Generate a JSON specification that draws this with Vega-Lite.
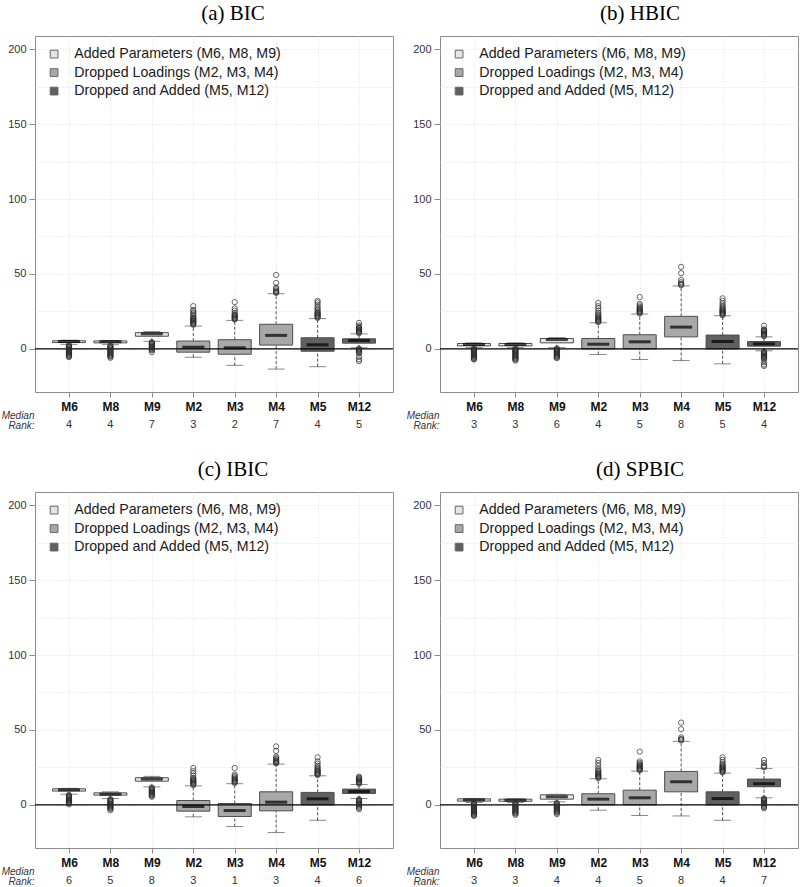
{
"$schema": "https://vega.github.io/schema/vega-lite/v6.json",
"background": "white",
"padding": {"left": 0, "top": 2, "right": 0, "bottom": 0},
"config": {
 "view": {"stroke": "#8c8c8c", "strokeWidth": 1},
 "font": "Liberation Sans",
 "axis": {"domain": false, "grid": true, "gridColor": "#d9d9d9", "gridDash": [1, 2], "gridWidth": 0.8, "tickColor": "#8c8c8c", "labelFont": "Liberation Sans", "labelColor": "#333333"},
 "axisX": {"tickSize": 5, "labelAngle": 0, "labelFontSize": 12, "labelFontWeight": "bold", "labelColor": "#111111", "labelPadding": 4, "titleFont": "Liberation Sans", "titleFontStyle": "italic", "titleFontWeight": "normal", "titleFontSize": 10, "titleColor": "#333333", "titleAlign": "right", "titleX": -1, "titleY": 18, "titleBaseline": "top", "titleLineHeight": 10, "titleAnchor": "start"},
 "axisY": {"tickSize": 6, "labelFontSize": 11, "labelPadding": 3},
 "legend": {"orient": "none", "legendX": 12, "legendY": 11, "title": null, "symbolType": "square", "symbolSize": 60, "symbolStrokeColor": "#666666", "symbolStrokeWidth": 1, "labelFont": "Liberation Sans", "labelFontSize": 14.2, "labelColor": "#1a1a1a", "labelOffset": 13, "labelLimit": 0, "rowPadding": 3.5, "padding": 0},
 "title": {"font": "Liberation Serif", "fontSize": 21, "fontWeight": "normal", "color": "#000000", "anchor": "middle", "offset": 12}
},
"datasets": {
 "zero": [{"ref": 0}],
 "box_a": [
  {"m": "M6", "g": "Added Parameters (M6, M8, M9)", "lo": 3.0, "q1": 4.2, "med": 4.9, "q3": 5.4, "hi": 5.8, "rank": 4},
  {"m": "M8", "g": "Added Parameters (M6, M8, M9)", "lo": 2.8, "q1": 4.0, "med": 4.8, "q3": 5.3, "hi": 5.6, "rank": 4},
  {"m": "M9", "g": "Added Parameters (M6, M8, M9)", "lo": 5.0, "q1": 8.4, "med": 10.0, "q3": 10.8, "hi": 11.5, "rank": 7},
  {"m": "M2", "g": "Dropped Loadings (M2, M3, M4)", "lo": -5.6, "q1": -2.2, "med": 1.1, "q3": 5.2, "hi": 15.2, "rank": 3},
  {"m": "M3", "g": "Dropped Loadings (M2, M3, M4)", "lo": -11.0, "q1": -3.6, "med": 0.7, "q3": 6.1, "hi": 19.0, "rank": 2},
  {"m": "M4", "g": "Dropped Loadings (M2, M3, M4)", "lo": -13.5, "q1": 2.5, "med": 9.0, "q3": 16.4, "hi": 36.8, "rank": 7},
  {"m": "M5", "g": "Dropped and Added (M5, M12)", "lo": -11.9, "q1": -1.6, "med": 2.7, "q3": 7.4, "hi": 20.2, "rank": 4},
  {"m": "M12", "g": "Dropped and Added (M5, M12)", "lo": 0.7, "q1": 3.8, "med": 5.6, "q3": 6.7, "hi": 10.0, "rank": 5}
 ],
 "box_b": [
  {"m": "M6", "g": "Added Parameters (M6, M8, M9)", "lo": 0.8, "q1": 2.0, "med": 2.9, "q3": 3.6, "hi": 4.0, "rank": 3},
  {"m": "M8", "g": "Added Parameters (M6, M8, M9)", "lo": 0.8, "q1": 2.0, "med": 2.9, "q3": 3.6, "hi": 4.0, "rank": 3},
  {"m": "M9", "g": "Added Parameters (M6, M8, M9)", "lo": 0.8, "q1": 4.0, "med": 6.2, "q3": 6.9, "hi": 7.5, "rank": 6},
  {"m": "M2", "g": "Dropped Loadings (M2, M3, M4)", "lo": -3.8, "q1": 0.0, "med": 3.1, "q3": 6.9, "hi": 17.4, "rank": 4},
  {"m": "M3", "g": "Dropped Loadings (M2, M3, M4)", "lo": -7.1, "q1": 0.0, "med": 4.7, "q3": 9.4, "hi": 23.2, "rank": 5},
  {"m": "M4", "g": "Dropped Loadings (M2, M3, M4)", "lo": -7.8, "q1": 8.0, "med": 14.5, "q3": 21.7, "hi": 42.0, "rank": 8},
  {"m": "M5", "g": "Dropped and Added (M5, M12)", "lo": -10.0, "q1": 0.0, "med": 4.9, "q3": 9.2, "hi": 22.1, "rank": 5},
  {"m": "M12", "g": "Dropped and Added (M5, M12)", "lo": -1.3, "q1": 1.8, "med": 3.3, "q3": 4.9, "hi": 8.0, "rank": 4}
 ],
 "box_c": [
  {"m": "M6", "g": "Added Parameters (M6, M8, M9)", "lo": 7.1, "q1": 9.2, "med": 10.0, "q3": 10.7, "hi": 11.0, "rank": 6},
  {"m": "M8", "g": "Added Parameters (M6, M8, M9)", "lo": 4.2, "q1": 6.5, "med": 7.1, "q3": 8.0, "hi": 8.7, "rank": 5},
  {"m": "M9", "g": "Added Parameters (M6, M8, M9)", "lo": 12.0, "q1": 15.8, "med": 17.2, "q3": 18.1, "hi": 19.0, "rank": 8},
  {"m": "M2", "g": "Dropped Loadings (M2, M3, M4)", "lo": -8.0, "q1": -4.2, "med": -1.1, "q3": 2.9, "hi": 12.7, "rank": 3},
  {"m": "M3", "g": "Dropped Loadings (M2, M3, M4)", "lo": -14.5, "q1": -7.8, "med": -3.8, "q3": 0.9, "hi": 14.1, "rank": 1},
  {"m": "M4", "g": "Dropped Loadings (M2, M3, M4)", "lo": -18.5, "q1": -4.0, "med": 1.8, "q3": 8.7, "hi": 27.2, "rank": 3},
  {"m": "M5", "g": "Dropped and Added (M5, M12)", "lo": -10.3, "q1": 0.0, "med": 4.0, "q3": 8.3, "hi": 19.4, "rank": 4},
  {"m": "M12", "g": "Dropped and Added (M5, M12)", "lo": 4.2, "q1": 7.6, "med": 8.9, "q3": 10.5, "hi": 13.6, "rank": 6}
 ],
 "box_d": [
  {"m": "M6", "g": "Added Parameters (M6, M8, M9)", "lo": 1.6, "q1": 2.5, "med": 3.3, "q3": 4.0, "hi": 4.2, "rank": 3},
  {"m": "M8", "g": "Added Parameters (M6, M8, M9)", "lo": 1.6, "q1": 2.4, "med": 3.1, "q3": 3.8, "hi": 4.0, "rank": 3},
  {"m": "M9", "g": "Added Parameters (M6, M8, M9)", "lo": 2.0, "q1": 3.8, "med": 5.4, "q3": 6.7, "hi": 7.0, "rank": 4},
  {"m": "M2", "g": "Dropped Loadings (M2, M3, M4)", "lo": -3.6, "q1": 0.0, "med": 3.8, "q3": 7.4, "hi": 17.4, "rank": 4},
  {"m": "M3", "g": "Dropped Loadings (M2, M3, M4)", "lo": -7.1, "q1": 0.0, "med": 4.7, "q3": 9.8, "hi": 22.5, "rank": 5},
  {"m": "M4", "g": "Dropped Loadings (M2, M3, M4)", "lo": -7.4, "q1": 8.7, "med": 15.4, "q3": 22.3, "hi": 42.4, "rank": 8},
  {"m": "M5", "g": "Dropped and Added (M5, M12)", "lo": -10.3, "q1": 0.0, "med": 4.2, "q3": 8.7, "hi": 21.2, "rank": 4},
  {"m": "M12", "g": "Dropped and Added (M5, M12)", "lo": 4.7, "q1": 12.1, "med": 14.1, "q3": 17.2, "hi": 24.3, "rank": 7}
 ],
 "out_a": [
  {"m":"M6","v":2.5},{"m":"M6","v":2},{"m":"M6","v":1.5},{"m":"M6","v":1},{"m":"M6","v":0.5},{"m":"M6","v":0},{"m":"M6","v":-0.5},{"m":"M6","v":-1},{"m":"M6","v":-1.5},{"m":"M6","v":-2},{"m":"M6","v":-2.5},{"m":"M6","v":-3},{"m":"M6","v":-3.5},{"m":"M6","v":-4},{"m":"M6","v":-4.5},{"m":"M6","v":-5},{"m":"M6","v":-5.5},
  {"m":"M8","v":2.2},{"m":"M8","v":1.7},{"m":"M8","v":1.2},{"m":"M8","v":0.7},{"m":"M8","v":0.2},{"m":"M8","v":-0.3},{"m":"M8","v":-0.8},{"m":"M8","v":-1.3},{"m":"M8","v":-1.8},{"m":"M8","v":-2.3},{"m":"M8","v":-2.8},{"m":"M8","v":-3.3},{"m":"M8","v":-3.8},{"m":"M8","v":-4.3},{"m":"M8","v":-4.8},{"m":"M8","v":-5.3},{"m":"M8","v":-6},
  {"m":"M9","v":4.5},{"m":"M9","v":4},{"m":"M9","v":3.5},{"m":"M9","v":3},{"m":"M9","v":2.5},{"m":"M9","v":2},{"m":"M9","v":1.5},{"m":"M9","v":1},{"m":"M9","v":0.5},{"m":"M9","v":0},{"m":"M9","v":-0.5},{"m":"M9","v":-1},{"m":"M9","v":-2.2},
  {"m":"M2","v":16},{"m":"M2","v":16.5},{"m":"M2","v":17},{"m":"M2","v":17.5},{"m":"M2","v":18},{"m":"M2","v":18.5},{"m":"M2","v":19},{"m":"M2","v":19.5},{"m":"M2","v":20},{"m":"M2","v":20.5},{"m":"M2","v":21},{"m":"M2","v":22},{"m":"M2","v":23},{"m":"M2","v":24},{"m":"M2","v":25},{"m":"M2","v":26},{"m":"M2","v":28.5},
  {"m":"M3","v":19.6},{"m":"M3","v":20},{"m":"M3","v":20.5},{"m":"M3","v":21},{"m":"M3","v":21.5},{"m":"M3","v":22},{"m":"M3","v":22.5},{"m":"M3","v":23},{"m":"M3","v":24},{"m":"M3","v":25.5},{"m":"M3","v":27},{"m":"M3","v":31.2},
  {"m":"M4","v":37.3},{"m":"M4","v":37.8},{"m":"M4","v":38.3},{"m":"M4","v":39},{"m":"M4","v":40},{"m":"M4","v":41},{"m":"M4","v":44},{"m":"M4","v":49.3},
  {"m":"M5","v":20.7},{"m":"M5","v":21.2},{"m":"M5","v":21.7},{"m":"M5","v":22.2},{"m":"M5","v":22.7},{"m":"M5","v":23.2},{"m":"M5","v":23.7},{"m":"M5","v":24.2},{"m":"M5","v":25},{"m":"M5","v":26},{"m":"M5","v":27},{"m":"M5","v":28},{"m":"M5","v":29.5},{"m":"M5","v":31},{"m":"M5","v":32},
  {"m":"M12","v":10.5},{"m":"M12","v":11},{"m":"M12","v":11.5},{"m":"M12","v":12},{"m":"M12","v":12.5},{"m":"M12","v":13},{"m":"M12","v":13.5},{"m":"M12","v":14},{"m":"M12","v":14.5},{"m":"M12","v":15.5},{"m":"M12","v":17.3},{"m":"M12","v":0.2},{"m":"M12","v":-0.3},{"m":"M12","v":-0.8},{"m":"M12","v":-1.3},{"m":"M12","v":-1.8},{"m":"M12","v":-2.3},{"m":"M12","v":-3},{"m":"M12","v":-5.3},{"m":"M12","v":-7},{"m":"M12","v":-8.2}
 ],
 "out_b": [
  {"m":"M6","v":0.3},{"m":"M6","v":-0.2},{"m":"M6","v":-0.7},{"m":"M6","v":-1.2},{"m":"M6","v":-1.7},{"m":"M6","v":-2.2},{"m":"M6","v":-2.7},{"m":"M6","v":-3.2},{"m":"M6","v":-3.7},{"m":"M6","v":-4.2},{"m":"M6","v":-4.7},{"m":"M6","v":-5.2},{"m":"M6","v":-5.7},{"m":"M6","v":-6.2},{"m":"M6","v":-6.7},{"m":"M6","v":-7.1},
  {"m":"M8","v":0.3},{"m":"M8","v":-0.2},{"m":"M8","v":-0.7},{"m":"M8","v":-1.2},{"m":"M8","v":-1.7},{"m":"M8","v":-2.2},{"m":"M8","v":-2.7},{"m":"M8","v":-3.2},{"m":"M8","v":-3.7},{"m":"M8","v":-4.2},{"m":"M8","v":-4.7},{"m":"M8","v":-5.2},{"m":"M8","v":-5.7},{"m":"M8","v":-6.2},{"m":"M8","v":-6.7},{"m":"M8","v":-7.2},{"m":"M8","v":-7.8},
  {"m":"M9","v":0.3},{"m":"M9","v":-0.2},{"m":"M9","v":-0.7},{"m":"M9","v":-1.2},{"m":"M9","v":-1.7},{"m":"M9","v":-2.2},{"m":"M9","v":-2.7},{"m":"M9","v":-3.2},{"m":"M9","v":-3.7},{"m":"M9","v":-4.2},{"m":"M9","v":-4.7},{"m":"M9","v":-5.2},{"m":"M9","v":-5.7},{"m":"M9","v":-6.2},
  {"m":"M2","v":17.8},{"m":"M2","v":18.3},{"m":"M2","v":18.8},{"m":"M2","v":19.3},{"m":"M2","v":19.8},{"m":"M2","v":20.3},{"m":"M2","v":20.8},{"m":"M2","v":21.5},{"m":"M2","v":22.2},{"m":"M2","v":23},{"m":"M2","v":24},{"m":"M2","v":25.5},{"m":"M2","v":27},{"m":"M2","v":28.5},{"m":"M2","v":30.6},
  {"m":"M3","v":23.6},{"m":"M3","v":24.1},{"m":"M3","v":24.6},{"m":"M3","v":25.1},{"m":"M3","v":25.6},{"m":"M3","v":26.1},{"m":"M3","v":26.6},{"m":"M3","v":27.2},{"m":"M3","v":28},{"m":"M3","v":29},{"m":"M3","v":30},{"m":"M3","v":34.6},
  {"m":"M4","v":42.4},{"m":"M4","v":43},{"m":"M4","v":43.5},{"m":"M4","v":44.5},{"m":"M4","v":46},{"m":"M4","v":50.5},{"m":"M4","v":54.7},
  {"m":"M5","v":22.5},{"m":"M5","v":23},{"m":"M5","v":23.5},{"m":"M5","v":24},{"m":"M5","v":24.5},{"m":"M5","v":25},{"m":"M5","v":25.5},{"m":"M5","v":26},{"m":"M5","v":26.5},{"m":"M5","v":27.2},{"m":"M5","v":28},{"m":"M5","v":29},{"m":"M5","v":30.5},{"m":"M5","v":32},{"m":"M5","v":33.7},
  {"m":"M12","v":8.5},{"m":"M12","v":9},{"m":"M12","v":9.5},{"m":"M12","v":10},{"m":"M12","v":10.5},{"m":"M12","v":11},{"m":"M12","v":11.5},{"m":"M12","v":12},{"m":"M12","v":12.5},{"m":"M12","v":13},{"m":"M12","v":15.4},{"m":"M12","v":-1.8},{"m":"M12","v":-2.3},{"m":"M12","v":-2.8},{"m":"M12","v":-3.3},{"m":"M12","v":-3.8},{"m":"M12","v":-4.3},{"m":"M12","v":-4.8},{"m":"M12","v":-5.3},{"m":"M12","v":-5.8},{"m":"M12","v":-6.3},{"m":"M12","v":-7},{"m":"M12","v":-9},{"m":"M12","v":-10.5},{"m":"M12","v":-11.4}
 ],
 "out_c": [
  {"m":"M6","v":6.6},{"m":"M6","v":6.1},{"m":"M6","v":5.6},{"m":"M6","v":5.1},{"m":"M6","v":4.6},{"m":"M6","v":4.1},{"m":"M6","v":3.6},{"m":"M6","v":3.1},{"m":"M6","v":2.6},{"m":"M6","v":2.1},{"m":"M6","v":1.6},{"m":"M6","v":1.1},{"m":"M6","v":0.4},
  {"m":"M8","v":3.8},{"m":"M8","v":3.3},{"m":"M8","v":2.8},{"m":"M8","v":2.3},{"m":"M8","v":1.8},{"m":"M8","v":1.3},{"m":"M8","v":0.8},{"m":"M8","v":0.3},{"m":"M8","v":-0.2},{"m":"M8","v":-0.7},{"m":"M8","v":-1.2},{"m":"M8","v":-1.7},{"m":"M8","v":-2.2},{"m":"M8","v":-2.7},{"m":"M8","v":-3.6},
  {"m":"M9","v":11.5},{"m":"M9","v":11},{"m":"M9","v":10.5},{"m":"M9","v":10},{"m":"M9","v":9.5},{"m":"M9","v":9},{"m":"M9","v":8.5},{"m":"M9","v":8},{"m":"M9","v":7.5},{"m":"M9","v":7},{"m":"M9","v":6.5},{"m":"M9","v":6},{"m":"M9","v":5.4},
  {"m":"M2","v":13.2},{"m":"M2","v":13.7},{"m":"M2","v":14.2},{"m":"M2","v":14.7},{"m":"M2","v":15.2},{"m":"M2","v":15.7},{"m":"M2","v":16.2},{"m":"M2","v":16.7},{"m":"M2","v":17.3},{"m":"M2","v":18},{"m":"M2","v":19.5},{"m":"M2","v":21},{"m":"M2","v":22.5},{"m":"M2","v":24.6},
  {"m":"M3","v":14.6},{"m":"M3","v":15.1},{"m":"M3","v":15.6},{"m":"M3","v":16.1},{"m":"M3","v":16.6},{"m":"M3","v":17.1},{"m":"M3","v":17.7},{"m":"M3","v":18.4},{"m":"M3","v":19.2},{"m":"M3","v":20.2},{"m":"M3","v":24.6},
  {"m":"M4","v":27.7},{"m":"M4","v":28.2},{"m":"M4","v":28.7},{"m":"M4","v":29.2},{"m":"M4","v":29.8},{"m":"M4","v":30.5},{"m":"M4","v":31.2},{"m":"M4","v":32.2},{"m":"M4","v":36},{"m":"M4","v":39},
  {"m":"M5","v":19.9},{"m":"M5","v":20.4},{"m":"M5","v":20.9},{"m":"M5","v":21.4},{"m":"M5","v":21.9},{"m":"M5","v":22.4},{"m":"M5","v":22.9},{"m":"M5","v":23.5},{"m":"M5","v":24.2},{"m":"M5","v":25},{"m":"M5","v":26},{"m":"M5","v":27.5},{"m":"M5","v":29},{"m":"M5","v":31.7},
  {"m":"M12","v":14.1},{"m":"M12","v":14.6},{"m":"M12","v":15.1},{"m":"M12","v":15.6},{"m":"M12","v":16.1},{"m":"M12","v":16.6},{"m":"M12","v":17.1},{"m":"M12","v":17.6},{"m":"M12","v":18.1},{"m":"M12","v":18.8},{"m":"M12","v":3.7},{"m":"M12","v":3.2},{"m":"M12","v":2.7},{"m":"M12","v":2.2},{"m":"M12","v":1.7},{"m":"M12","v":1.2},{"m":"M12","v":0.7},{"m":"M12","v":0.2},{"m":"M12","v":-0.5},{"m":"M12","v":-1.3},{"m":"M12","v":-2},{"m":"M12","v":-2.9}
 ],
 "out_d": [
  {"m":"M6","v":1.1},{"m":"M6","v":0.6},{"m":"M6","v":0.1},{"m":"M6","v":-0.4},{"m":"M6","v":-0.9},{"m":"M6","v":-1.4},{"m":"M6","v":-1.9},{"m":"M6","v":-2.4},{"m":"M6","v":-2.9},{"m":"M6","v":-3.4},{"m":"M6","v":-3.9},{"m":"M6","v":-4.4},{"m":"M6","v":-4.9},{"m":"M6","v":-5.4},{"m":"M6","v":-5.9},{"m":"M6","v":-6.4},{"m":"M6","v":-6.9},{"m":"M6","v":-7.4},
  {"m":"M8","v":1.1},{"m":"M8","v":0.6},{"m":"M8","v":0.1},{"m":"M8","v":-0.4},{"m":"M8","v":-0.9},{"m":"M8","v":-1.4},{"m":"M8","v":-1.9},{"m":"M8","v":-2.4},{"m":"M8","v":-2.9},{"m":"M8","v":-3.4},{"m":"M8","v":-3.9},{"m":"M8","v":-4.4},{"m":"M8","v":-4.9},{"m":"M8","v":-5.4},{"m":"M8","v":-5.9},{"m":"M8","v":-6.7},
  {"m":"M9","v":1.2},{"m":"M9","v":0.7},{"m":"M9","v":0.2},{"m":"M9","v":-0.3},{"m":"M9","v":-0.8},{"m":"M9","v":-1.3},{"m":"M9","v":-1.8},{"m":"M9","v":-2.3},{"m":"M9","v":-2.8},{"m":"M9","v":-3.3},{"m":"M9","v":-3.8},{"m":"M9","v":-4.3},{"m":"M9","v":-4.8},{"m":"M9","v":-5.3},{"m":"M9","v":-6.2},
  {"m":"M2","v":17.9},{"m":"M2","v":18.4},{"m":"M2","v":18.9},{"m":"M2","v":19.4},{"m":"M2","v":19.9},{"m":"M2","v":20.4},{"m":"M2","v":20.9},{"m":"M2","v":21.5},{"m":"M2","v":22.2},{"m":"M2","v":23},{"m":"M2","v":24},{"m":"M2","v":26},{"m":"M2","v":28},{"m":"M2","v":29.9},
  {"m":"M3","v":23},{"m":"M3","v":23.5},{"m":"M3","v":24},{"m":"M3","v":24.5},{"m":"M3","v":25},{"m":"M3","v":25.5},{"m":"M3","v":26},{"m":"M3","v":26.5},{"m":"M3","v":27.2},{"m":"M3","v":28},{"m":"M3","v":29},{"m":"M3","v":35.5},
  {"m":"M4","v":43},{"m":"M4","v":43.5},{"m":"M4","v":44},{"m":"M4","v":45},{"m":"M4","v":50.5},{"m":"M4","v":54.9},
  {"m":"M5","v":21.7},{"m":"M5","v":22.2},{"m":"M5","v":22.7},{"m":"M5","v":23.2},{"m":"M5","v":23.7},{"m":"M5","v":24.2},{"m":"M5","v":24.7},{"m":"M5","v":25.2},{"m":"M5","v":25.8},{"m":"M5","v":26.5},{"m":"M5","v":27.2},{"m":"M5","v":28.5},{"m":"M5","v":30},{"m":"M5","v":31.7},
  {"m":"M12","v":25},{"m":"M12","v":25.5},{"m":"M12","v":26.2},{"m":"M12","v":28},{"m":"M12","v":29.9},{"m":"M12","v":4.2},{"m":"M12","v":3.7},{"m":"M12","v":3.2},{"m":"M12","v":2.7},{"m":"M12","v":2.2},{"m":"M12","v":1.7},{"m":"M12","v":1.2},{"m":"M12","v":0.7},{"m":"M12","v":0},{"m":"M12","v":-0.8},{"m":"M12","v":-1.5},{"m":"M12","v":-2.2}
 ]
},
"vconcat": [
 {"hconcat": [
  {"width": 358, "height": 356, "title": {"text": "(a) BIC", "dx": 19},
   "layer": [
    {"data": {"name": "box_a"}, "mark": {"type": "rule", "strokeDash": [3, 2], "color": "#555555"},
     "encoding": {"x": {"field": "m", "type": "nominal", "sort": ["M6","M8","M9","M2","M3","M4","M5","M12"], "scale": {"type": "point", "padding": 0.82}, "title": ["Median", "Rank:"]},
      "y": {"field": "q3", "type": "quantitative", "scale": {"domain": [-28.8, 208.8], "nice": false, "zero": false}, "title": null, "axis": {"values": [0,25,50,75,100,125,150,175,200], "labelExpr": "datum.value % 50 === 0 ? datum.label : ''", "tickOpacity": {"condition": {"test": "datum.value % 50 === 0", "value": 1}, "value": 0}}},
      "y2": {"field": "hi"}}},
    {"data": {"name": "box_a"}, "mark": {"type": "rule", "strokeDash": [3, 2], "color": "#555555"},
     "encoding": {"x": {"field": "m", "type": "nominal", "sort": ["M6","M8","M9","M2","M3","M4","M5","M12"], "title": ["Median", "Rank:"]}, "y": {"field": "lo", "type": "quantitative", "title": null}, "y2": {"field": "q1"}}},
    {"data": {"name": "box_a"}, "mark": {"type": "tick", "orient": "horizontal", "size": 17, "thickness": 1, "color": "#555555"},
     "encoding": {"x": {"field": "m", "type": "nominal", "sort": ["M6","M8","M9","M2","M3","M4","M5","M12"], "title": ["Median", "Rank:"]}, "y": {"field": "hi", "type": "quantitative", "title": null}}},
    {"data": {"name": "box_a"}, "mark": {"type": "tick", "orient": "horizontal", "size": 17, "thickness": 1, "color": "#555555"},
     "encoding": {"x": {"field": "m", "type": "nominal", "sort": ["M6","M8","M9","M2","M3","M4","M5","M12"], "title": ["Median", "Rank:"]}, "y": {"field": "lo", "type": "quantitative", "title": null}}},
    {"data": {"name": "box_a"}, "mark": {"type": "bar", "width": 33, "stroke": "#4d4d4d", "strokeWidth": 1},
     "encoding": {"x": {"field": "m", "type": "nominal", "sort": ["M6","M8","M9","M2","M3","M4","M5","M12"], "title": ["Median", "Rank:"]}, "y": {"field": "q1", "type": "quantitative", "title": null}, "y2": {"field": "q3"},
      "fill": {"field": "g", "type": "nominal", "scale": {"domain": ["Added Parameters (M6, M8, M9)", "Dropped Loadings (M2, M3, M4)", "Dropped and Added (M5, M12)"], "range": ["#e6e6e6", "#a8a8a8", "#606060"]}}}},
    {"data": {"name": "box_a"}, "mark": {"type": "tick", "orient": "horizontal", "size": 22, "thickness": 3, "color": "#000000"},
     "encoding": {"x": {"field": "m", "type": "nominal", "sort": ["M6","M8","M9","M2","M3","M4","M5","M12"], "title": ["Median", "Rank:"]}, "y": {"field": "med", "type": "quantitative", "title": null}}},
    {"data": {"name": "zero"}, "mark": {"type": "rule", "color": "#000000", "strokeWidth": 1.2}, "encoding": {"y": {"field": "ref", "type": "quantitative", "title": null}}},
    {"data": {"name": "out_a"}, "mark": {"type": "point", "shape": "circle", "filled": false, "size": 28, "stroke": "#2a2a2a", "strokeWidth": 1},
     "encoding": {"x": {"field": "m", "type": "nominal", "sort": ["M6","M8","M9","M2","M3","M4","M5","M12"], "title": ["Median", "Rank:"]}, "y": {"field": "v", "type": "quantitative", "title": null}}},
    {"data": {"name": "box_a"}, "mark": {"type": "text", "fontSize": 11, "color": "#333333", "baseline": "middle"},
     "encoding": {"x": {"field": "m", "type": "nominal", "sort": ["M6","M8","M9","M2","M3","M4","M5","M12"], "title": ["Median", "Rank:"]}, "y": {"datum": -50.5, "type": "quantitative", "title": null}, "text": {"field": "rank"}}}
   ]},
  {"width": 358, "height": 356, "title": {"text": "(b) HBIC", "dx": 21},
   "layer": [
    {"data": {"name": "box_b"}, "mark": {"type": "rule", "strokeDash": [3, 2], "color": "#555555"},
     "encoding": {"x": {"field": "m", "type": "nominal", "sort": ["M6","M8","M9","M2","M3","M4","M5","M12"], "scale": {"type": "point", "padding": 0.82}, "title": ["Median", "Rank:"]},
      "y": {"field": "q3", "type": "quantitative", "scale": {"domain": [-28.8, 208.8], "nice": false, "zero": false}, "title": null, "axis": {"values": [0,25,50,75,100,125,150,175,200], "labelExpr": "datum.value % 50 === 0 ? datum.label : ''", "tickOpacity": {"condition": {"test": "datum.value % 50 === 0", "value": 1}, "value": 0}}},
      "y2": {"field": "hi"}}},
    {"data": {"name": "box_b"}, "mark": {"type": "rule", "strokeDash": [3, 2], "color": "#555555"},
     "encoding": {"x": {"field": "m", "type": "nominal", "sort": ["M6","M8","M9","M2","M3","M4","M5","M12"], "title": ["Median", "Rank:"]}, "y": {"field": "lo", "type": "quantitative", "title": null}, "y2": {"field": "q1"}}},
    {"data": {"name": "box_b"}, "mark": {"type": "tick", "orient": "horizontal", "size": 17, "thickness": 1, "color": "#555555"},
     "encoding": {"x": {"field": "m", "type": "nominal", "sort": ["M6","M8","M9","M2","M3","M4","M5","M12"], "title": ["Median", "Rank:"]}, "y": {"field": "hi", "type": "quantitative", "title": null}}},
    {"data": {"name": "box_b"}, "mark": {"type": "tick", "orient": "horizontal", "size": 17, "thickness": 1, "color": "#555555"},
     "encoding": {"x": {"field": "m", "type": "nominal", "sort": ["M6","M8","M9","M2","M3","M4","M5","M12"], "title": ["Median", "Rank:"]}, "y": {"field": "lo", "type": "quantitative", "title": null}}},
    {"data": {"name": "box_b"}, "mark": {"type": "bar", "width": 33, "stroke": "#4d4d4d", "strokeWidth": 1},
     "encoding": {"x": {"field": "m", "type": "nominal", "sort": ["M6","M8","M9","M2","M3","M4","M5","M12"], "title": ["Median", "Rank:"]}, "y": {"field": "q1", "type": "quantitative", "title": null}, "y2": {"field": "q3"},
      "fill": {"field": "g", "type": "nominal", "scale": {"domain": ["Added Parameters (M6, M8, M9)", "Dropped Loadings (M2, M3, M4)", "Dropped and Added (M5, M12)"], "range": ["#e6e6e6", "#a8a8a8", "#606060"]}}}},
    {"data": {"name": "box_b"}, "mark": {"type": "tick", "orient": "horizontal", "size": 22, "thickness": 3, "color": "#000000"},
     "encoding": {"x": {"field": "m", "type": "nominal", "sort": ["M6","M8","M9","M2","M3","M4","M5","M12"], "title": ["Median", "Rank:"]}, "y": {"field": "med", "type": "quantitative", "title": null}}},
    {"data": {"name": "zero"}, "mark": {"type": "rule", "color": "#000000", "strokeWidth": 1.2}, "encoding": {"y": {"field": "ref", "type": "quantitative", "title": null}}},
    {"data": {"name": "out_b"}, "mark": {"type": "point", "shape": "circle", "filled": false, "size": 28, "stroke": "#2a2a2a", "strokeWidth": 1},
     "encoding": {"x": {"field": "m", "type": "nominal", "sort": ["M6","M8","M9","M2","M3","M4","M5","M12"], "title": ["Median", "Rank:"]}, "y": {"field": "v", "type": "quantitative", "title": null}}},
    {"data": {"name": "box_b"}, "mark": {"type": "text", "fontSize": 11, "color": "#333333", "baseline": "middle"},
     "encoding": {"x": {"field": "m", "type": "nominal", "sort": ["M6","M8","M9","M2","M3","M4","M5","M12"], "title": ["Median", "Rank:"]}, "y": {"datum": -50.5, "type": "quantitative", "title": null}, "text": {"field": "rank"}}}
   ]}
 ], "spacing": 47, "bounds": "flush", "resolve": {"legend": {"fill": "independent"}, "scale": {"fill": "independent"}}},
 {"hconcat": [
  {"width": 358, "height": 356, "title": {"text": "(c) IBIC", "dx": 19},
   "layer": [
    {"data": {"name": "box_c"}, "mark": {"type": "rule", "strokeDash": [3, 2], "color": "#555555"},
     "encoding": {"x": {"field": "m", "type": "nominal", "sort": ["M6","M8","M9","M2","M3","M4","M5","M12"], "scale": {"type": "point", "padding": 0.82}, "title": ["Median", "Rank:"]},
      "y": {"field": "q3", "type": "quantitative", "scale": {"domain": [-28.8, 208.8], "nice": false, "zero": false}, "title": null, "axis": {"values": [0,25,50,75,100,125,150,175,200], "labelExpr": "datum.value % 50 === 0 ? datum.label : ''", "tickOpacity": {"condition": {"test": "datum.value % 50 === 0", "value": 1}, "value": 0}}},
      "y2": {"field": "hi"}}},
    {"data": {"name": "box_c"}, "mark": {"type": "rule", "strokeDash": [3, 2], "color": "#555555"},
     "encoding": {"x": {"field": "m", "type": "nominal", "sort": ["M6","M8","M9","M2","M3","M4","M5","M12"], "title": ["Median", "Rank:"]}, "y": {"field": "lo", "type": "quantitative", "title": null}, "y2": {"field": "q1"}}},
    {"data": {"name": "box_c"}, "mark": {"type": "tick", "orient": "horizontal", "size": 17, "thickness": 1, "color": "#555555"},
     "encoding": {"x": {"field": "m", "type": "nominal", "sort": ["M6","M8","M9","M2","M3","M4","M5","M12"], "title": ["Median", "Rank:"]}, "y": {"field": "hi", "type": "quantitative", "title": null}}},
    {"data": {"name": "box_c"}, "mark": {"type": "tick", "orient": "horizontal", "size": 17, "thickness": 1, "color": "#555555"},
     "encoding": {"x": {"field": "m", "type": "nominal", "sort": ["M6","M8","M9","M2","M3","M4","M5","M12"], "title": ["Median", "Rank:"]}, "y": {"field": "lo", "type": "quantitative", "title": null}}},
    {"data": {"name": "box_c"}, "mark": {"type": "bar", "width": 33, "stroke": "#4d4d4d", "strokeWidth": 1},
     "encoding": {"x": {"field": "m", "type": "nominal", "sort": ["M6","M8","M9","M2","M3","M4","M5","M12"], "title": ["Median", "Rank:"]}, "y": {"field": "q1", "type": "quantitative", "title": null}, "y2": {"field": "q3"},
      "fill": {"field": "g", "type": "nominal", "scale": {"domain": ["Added Parameters (M6, M8, M9)", "Dropped Loadings (M2, M3, M4)", "Dropped and Added (M5, M12)"], "range": ["#e6e6e6", "#a8a8a8", "#606060"]}}}},
    {"data": {"name": "box_c"}, "mark": {"type": "tick", "orient": "horizontal", "size": 22, "thickness": 3, "color": "#000000"},
     "encoding": {"x": {"field": "m", "type": "nominal", "sort": ["M6","M8","M9","M2","M3","M4","M5","M12"], "title": ["Median", "Rank:"]}, "y": {"field": "med", "type": "quantitative", "title": null}}},
    {"data": {"name": "zero"}, "mark": {"type": "rule", "color": "#000000", "strokeWidth": 1.2}, "encoding": {"y": {"field": "ref", "type": "quantitative", "title": null}}},
    {"data": {"name": "out_c"}, "mark": {"type": "point", "shape": "circle", "filled": false, "size": 28, "stroke": "#2a2a2a", "strokeWidth": 1},
     "encoding": {"x": {"field": "m", "type": "nominal", "sort": ["M6","M8","M9","M2","M3","M4","M5","M12"], "title": ["Median", "Rank:"]}, "y": {"field": "v", "type": "quantitative", "title": null}}},
    {"data": {"name": "box_c"}, "mark": {"type": "text", "fontSize": 11, "color": "#333333", "baseline": "middle"},
     "encoding": {"x": {"field": "m", "type": "nominal", "sort": ["M6","M8","M9","M2","M3","M4","M5","M12"], "title": ["Median", "Rank:"]}, "y": {"datum": -50.5, "type": "quantitative", "title": null}, "text": {"field": "rank"}}}
   ]},
  {"width": 358, "height": 356, "title": {"text": "(d) SPBIC", "dx": 21},
   "layer": [
    {"data": {"name": "box_d"}, "mark": {"type": "rule", "strokeDash": [3, 2], "color": "#555555"},
     "encoding": {"x": {"field": "m", "type": "nominal", "sort": ["M6","M8","M9","M2","M3","M4","M5","M12"], "scale": {"type": "point", "padding": 0.82}, "title": ["Median", "Rank:"]},
      "y": {"field": "q3", "type": "quantitative", "scale": {"domain": [-28.8, 208.8], "nice": false, "zero": false}, "title": null, "axis": {"values": [0,25,50,75,100,125,150,175,200], "labelExpr": "datum.value % 50 === 0 ? datum.label : ''", "tickOpacity": {"condition": {"test": "datum.value % 50 === 0", "value": 1}, "value": 0}}},
      "y2": {"field": "hi"}}},
    {"data": {"name": "box_d"}, "mark": {"type": "rule", "strokeDash": [3, 2], "color": "#555555"},
     "encoding": {"x": {"field": "m", "type": "nominal", "sort": ["M6","M8","M9","M2","M3","M4","M5","M12"], "title": ["Median", "Rank:"]}, "y": {"field": "lo", "type": "quantitative", "title": null}, "y2": {"field": "q1"}}},
    {"data": {"name": "box_d"}, "mark": {"type": "tick", "orient": "horizontal", "size": 17, "thickness": 1, "color": "#555555"},
     "encoding": {"x": {"field": "m", "type": "nominal", "sort": ["M6","M8","M9","M2","M3","M4","M5","M12"], "title": ["Median", "Rank:"]}, "y": {"field": "hi", "type": "quantitative", "title": null}}},
    {"data": {"name": "box_d"}, "mark": {"type": "tick", "orient": "horizontal", "size": 17, "thickness": 1, "color": "#555555"},
     "encoding": {"x": {"field": "m", "type": "nominal", "sort": ["M6","M8","M9","M2","M3","M4","M5","M12"], "title": ["Median", "Rank:"]}, "y": {"field": "lo", "type": "quantitative", "title": null}}},
    {"data": {"name": "box_d"}, "mark": {"type": "bar", "width": 33, "stroke": "#4d4d4d", "strokeWidth": 1},
     "encoding": {"x": {"field": "m", "type": "nominal", "sort": ["M6","M8","M9","M2","M3","M4","M5","M12"], "title": ["Median", "Rank:"]}, "y": {"field": "q1", "type": "quantitative", "title": null}, "y2": {"field": "q3"},
      "fill": {"field": "g", "type": "nominal", "scale": {"domain": ["Added Parameters (M6, M8, M9)", "Dropped Loadings (M2, M3, M4)", "Dropped and Added (M5, M12)"], "range": ["#e6e6e6", "#a8a8a8", "#606060"]}}}},
    {"data": {"name": "box_d"}, "mark": {"type": "tick", "orient": "horizontal", "size": 22, "thickness": 3, "color": "#000000"},
     "encoding": {"x": {"field": "m", "type": "nominal", "sort": ["M6","M8","M9","M2","M3","M4","M5","M12"], "title": ["Median", "Rank:"]}, "y": {"field": "med", "type": "quantitative", "title": null}}},
    {"data": {"name": "zero"}, "mark": {"type": "rule", "color": "#000000", "strokeWidth": 1.2}, "encoding": {"y": {"field": "ref", "type": "quantitative", "title": null}}},
    {"data": {"name": "out_d"}, "mark": {"type": "point", "shape": "circle", "filled": false, "size": 28, "stroke": "#2a2a2a", "strokeWidth": 1},
     "encoding": {"x": {"field": "m", "type": "nominal", "sort": ["M6","M8","M9","M2","M3","M4","M5","M12"], "title": ["Median", "Rank:"]}, "y": {"field": "v", "type": "quantitative", "title": null}}},
    {"data": {"name": "box_d"}, "mark": {"type": "text", "fontSize": 11, "color": "#333333", "baseline": "middle"},
     "encoding": {"x": {"field": "m", "type": "nominal", "sort": ["M6","M8","M9","M2","M3","M4","M5","M12"], "title": ["Median", "Rank:"]}, "y": {"datum": -50.5, "type": "quantitative", "title": null}, "text": {"field": "rank"}}}
   ]}
 ], "spacing": 47, "bounds": "flush", "resolve": {"legend": {"fill": "independent"}, "scale": {"fill": "independent"}}}
],
"spacing": 27,
"resolve": {"legend": {"fill": "independent"}, "scale": {"fill": "independent"}}
}
